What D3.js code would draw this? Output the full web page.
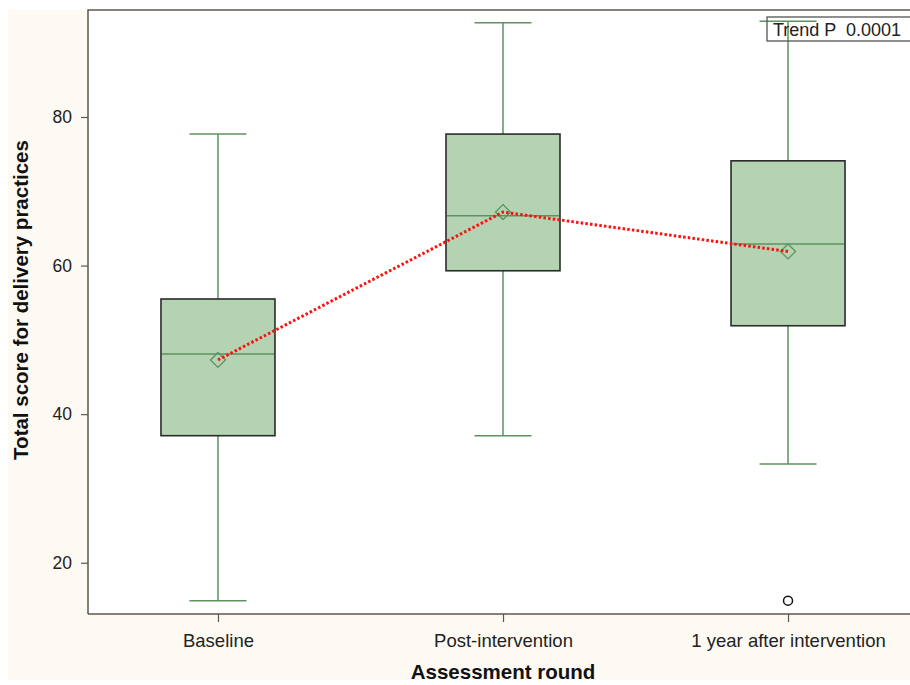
<!DOCTYPE html>
<html>
<head>
<meta charset="utf-8">
<script src="https://cdn.jsdelivr.net/npm/d3@7"></script>
<style>
  html, body { margin: 0; padding: 0; background: #ffffff; }
  svg { display: block; font-family: Arial, "Liberation Sans", sans-serif; }
</style>
</head>
<body>
<svg id="chart" width="910" height="685"></svg>
<script>
// Assessment rounds and box-plot statistics for the total delivery-practice score
const rounds = ["Baseline", "Post-intervention", "1 year after intervention"];
const whiskerLow  = [14.9, 37.1, 33.3];
const q1          = [37.1, 59.3, 51.9];
const median      = [48.1, 66.7, 62.9];
const q3          = [55.5, 77.7, 74.1];
const whiskerHigh = [77.7, 92.7, 92.9];
const means       = [47.3, 67.2, 61.9];
// Outlying observations: [round index, value]
const outliers = [[2, 14.9]];
const yTicks = [20, 40, 60, 80];
const trendLabel = "Trend P  0.0001";

const svg = d3.select("#chart");
const plot = { left: 88, top: 10, right: 918, bottom: 614 };

// Cream page background behind the axes
svg.append("rect")
  .attr("x", 8).attr("y", 10).attr("width", 902).attr("height", 670)
  .attr("fill", "#fdfaf3");
// White plotting area
svg.append("rect")
  .attr("x", plot.left).attr("y", plot.top)
  .attr("width", plot.right - plot.left).attr("height", plot.bottom - plot.top)
  .attr("fill", "#ffffff");

const x = d3.scalePoint().domain(rounds).range([plot.left, plot.right]).padding(0.456);
const y = d3.scaleLinear().domain([13.1, 94.4]).range([plot.bottom, plot.top]);

const boxW = 114, capW = 57;
const green = "#5e925e";

const stats = rounds.map((r, i) => ({
  r, lo: whiskerLow[i], q1: q1[i], med: median[i], q3: q3[i], hi: whiskerHigh[i], mean: means[i]
}));

const g = svg.append("g");

// Whiskers and caps
stats.forEach(d => {
  const cx = x(d.r);
  g.append("line").attr("x1", cx).attr("x2", cx).attr("y1", y(d.q3)).attr("y2", y(d.hi))
    .attr("stroke", green).attr("stroke-width", 1.5);
  g.append("line").attr("x1", cx).attr("x2", cx).attr("y1", y(d.q1)).attr("y2", y(d.lo))
    .attr("stroke", green).attr("stroke-width", 1.5);
  [d.lo, d.hi].forEach(v => {
    g.append("line").attr("x1", cx - capW / 2).attr("x2", cx + capW / 2)
      .attr("y1", y(v)).attr("y2", y(v))
      .attr("stroke", green).attr("stroke-width", 1.5);
  });
});

// Boxes
stats.forEach(d => {
  const cx = x(d.r);
  g.append("rect")
    .attr("x", cx - boxW / 2).attr("y", y(d.q3))
    .attr("width", boxW).attr("height", y(d.q1) - y(d.q3))
    .attr("fill", "#b4d3b2").attr("stroke", "#2b2b2b").attr("stroke-width", 1.6);
  g.append("line").attr("x1", cx - boxW / 2 + 1).attr("x2", cx + boxW / 2 - 1)
    .attr("y1", y(d.med)).attr("y2", y(d.med))
    .attr("stroke", green).attr("stroke-width", 1.5);
});

// Mean diamonds
stats.forEach(d => {
  const cx = x(d.r), cy = y(d.mean), s = 7.5;
  g.append("path")
    .attr("d", `M${cx},${cy - s}L${cx + s},${cy}L${cx},${cy + s}L${cx - s},${cy}Z`)
    .attr("fill", "none").attr("stroke", green).attr("stroke-width", 1.3);
});

// Dotted red line joining the means
const meanLine = d3.line().x(d => x(d.r)).y(d => y(d.mean));
g.append("path").datum(stats).attr("d", meanLine)
  .attr("fill", "none").attr("stroke", "#ff1010").attr("stroke-width", 3)
  .attr("stroke-dasharray", "2.5,2.2");

// Outliers
outliers.forEach(([i, v]) => {
  g.append("circle").attr("cx", x(rounds[i])).attr("cy", y(v)).attr("r", 4.5)
    .attr("fill", "none").attr("stroke", "#111").attr("stroke-width", 1.5);
});

// Axes
const axisColor = "#5e574c";
const yAxis = svg.append("g").attr("transform", `translate(${plot.left},0)`)
  .call(d3.axisLeft(y).tickValues(yTicks).tickSize(7).tickPadding(9));
const xAxis = svg.append("g").attr("transform", `translate(0,${plot.bottom})`)
  .call(d3.axisBottom(x).tickSize(8).tickPadding(12));
[yAxis, xAxis].forEach(a => {
  a.select(".domain").remove();
  a.selectAll(".tick line").attr("stroke", axisColor).attr("stroke-width", 1.2);
  a.selectAll(".tick text").attr("fill", "#222");
});
yAxis.selectAll(".tick text").style("font-size", "17.5px");
xAxis.selectAll(".tick text").style("font-size", "18.5px");

// Frame lines: left and top, bottom
svg.append("path")
  .attr("d", `M${plot.left},${plot.bottom}V${plot.top}H910`)
  .attr("fill", "none").attr("stroke", axisColor).attr("stroke-width", 1.5);
svg.append("line")
  .attr("x1", plot.left).attr("x2", 910).attr("y1", plot.bottom).attr("y2", plot.bottom)
  .attr("stroke", axisColor).attr("stroke-width", 1.5);

// Axis titles
svg.append("text")
  .attr("transform", `translate(28,300) rotate(-90)`)
  .attr("text-anchor", "middle")
  .style("font-size", "20.5px").style("font-weight", "bold").attr("fill", "#111")
  .text("Total score for delivery practices");
svg.append("text")
  .attr("x", 503).attr("y", 679)
  .attr("text-anchor", "middle")
  .style("font-size", "20.5px").style("font-weight", "bold").attr("fill", "#111")
  .text("Assessment round");

// Trend test annotation
svg.append("rect")
  .attr("x", 767).attr("y", 17).attr("width", 150).attr("height", 24)
  .attr("fill", "none").attr("stroke", "#555").attr("stroke-width", 1.3);
svg.append("text")
  .attr("x", 773).attr("y", 36)
  .style("font-size", "18px").style("white-space", "pre").attr("fill", "#222")
  .text(trendLabel);
</script>
</body>
</html>
